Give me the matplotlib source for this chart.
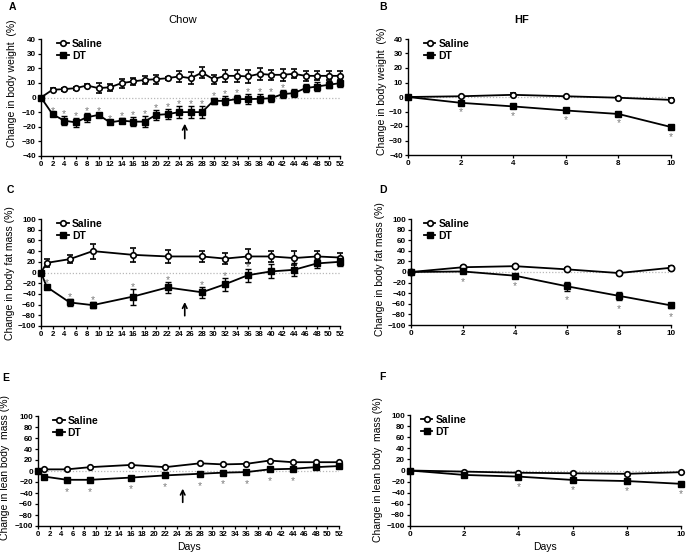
import matplotlib
matplotlib.use("Agg")
import matplotlib.pyplot as plt
from matplotlib.lines import Line2D

plt.rcParams['font.family'] = ['Liberation Sans', 'DejaVu Sans']

# ---------------- data ----------------
# Panel A (Chow, body weight)
A_days = list(range(0, 53, 2))
A_sal = [0, 5.3, 5.7, 6.4, 8.2, 6.4, 7, 9.8, 11, 12, 12.5, 13.2, 14.4, 13.2, 17,
         12.5, 14.8, 14.8, 14.4, 16.2, 15.5, 15.5, 16.2, 14.8, 14.8, 14.8, 14.8]
A_sal_err = [0, 1, 1, 1, 1, 3.5, 2.5, 3, 2.5, 3, 3, 1, 3.5, 4, 4, 3, 4, 4, 4.5,
             4, 3.5, 4, 3, 3.5, 3, 3, 3]
A_dt = [0, -11.4, -15.8, -17, -13.5, -11.9, -17, -15.8, -16.5, -16.5, -11.9, -11.4,
        -10, -10, -10, -2.3, -2.3, -1.1, -1.1, -0.9, -0.5, 2.3, 3, 6.4, 7.5, 8.7, 9.8]
A_dt_err = [0, 1, 3, 3, 3, 1.5, 1, 1.5, 3, 4, 3.5, 3.5, 4, 4, 4, 2, 3, 2.5, 3.5,
            3, 2.5, 2.5, 2.5, 2.5, 3, 2.5, 2.5]
A_sig = list(range(2, 43, 2))

# Panel B (HF, body weight)
B_days = [0, 2, 4, 6, 8, 10]
B_sal = [0, 0.5, 1.5, 0.5, -0.5, -2]
B_sal_err = [0.5, 0.5, 1, 0.5, 0.5, 1]
B_dt = [0, -4, -6.5, -9.3, -11.7, -20.7]
B_dt_err = [0.5, 0.5, 1, 1, 1, 1.5]
B_sig = [2, 4, 6, 8, 10]

# Panel C (Chow, fat mass)
C_days = [0, 1, 5, 9, 16, 22, 28, 32, 36, 40, 44, 48, 52]
C_sal = [0, 18, 25, 40, 33, 30, 30, 26, 30, 30, 27, 30, 28]
C_sal_err = [0, 8, 8, 14, 13, 12, 10, 10, 13, 10, 13, 10, 8]
C_dt = [0, -27, -56, -61, -45, -28, -37, -22, -5, 2, 5, 17, 20]
C_dt_err = [0, 3, 6, 6, 15, 10, 10, 12, 12, 13, 12, 8, 8]
C_sig = [1, 5, 9, 16, 22, 28, 32, 36]

# Panel D (HF, fat mass)
D_days = [0, 2, 4, 6, 8, 10]
D_sal = [0, 9, 11, 5, -2, 8]
D_sal_err = [1, 2, 2, 2, 2, 4]
D_dt = [0, 1, -7, -27, -45, -63]
D_dt_err = [1, 2, 2, 8, 8, 4]
D_sig = [2, 4, 6, 8, 10]

# Panel E (Chow, lean mass)
E_days = [0, 1, 5, 9, 16, 22, 28, 32, 36, 40, 44, 48, 52]
E_sal = [0, 3, 3, 7, 11, 7, 14, 12, 13, 19, 16, 16, 16]
E_dt = [0, -10, -16, -16, -12, -8, -5, -3, -2, 3, 4, 7, 9]
E_sig = [5, 9, 16, 22, 28, 32, 36, 40, 44]

# Panel F (HF, lean mass)
F_days = [0, 2, 4, 6, 8, 10]
F_sal = [0, -2, -4, -5, -6, -3]
F_dt = [0, -8, -11, -17, -19, -24]
F_sig = [4, 6, 8, 10]

# ---------------- figure ----------------
W, H = 687, 558
fig = plt.figure(figsize=(W / 100, H / 100), dpi=100)


def px_axes(left, top, right, bottom):
    return fig.add_axes([left / W, 1 - bottom / H, (right - left) / W, (bottom - top) / H])


TICK_FS = 5.8
LBL_FS = 7.5
STAR_FS = 7.5


def style(ax, xlim, xticks, ylim, yticks, xfs):
    ax.set_xlim(*xlim)
    ax.set_ylim(*ylim)
    ax.set_xticks(xticks)
    ax.set_yticks(yticks)
    for s in ['top', 'right']:
        ax.spines[s].set_visible(False)
    for s in ['left', 'bottom']:
        ax.spines[s].set_linewidth(1.0)
    ax.tick_params(direction='out', length=2.5, width=0.9, pad=1.2)
    for lab in ax.get_xticklabels():
        lab.set_fontsize(xfs)
        lab.set_fontweight('bold')
    for lab in ax.get_yticklabels():
        lab.set_fontsize(TICK_FS)
        lab.set_fontweight('bold')
    ax.axhline(0, color='#b8b8b8', lw=0.9, ls=(0, (1, 1.5)), zorder=0)


def plot_series(ax, x, sal, dt, sal_err=None, dt_err=None, ms=4):
    ax.errorbar(x, sal, yerr=sal_err, color='black', lw=1.3, marker='o', ms=ms,
                mfc='white', mec='black', mew=1.2, capsize=2.4, elinewidth=1.0,
                capthick=1.0, clip_on=False, zorder=3)
    ax.errorbar(x, dt, yerr=dt_err, color='black', lw=1.3, marker='s', ms=ms * 0.95,
                mfc='black', mec='black', capsize=2.4, elinewidth=1.0,
                capthick=1.0, clip_on=False, zorder=4)


def legend(ax, anchor, fs=7.5):
    h = [Line2D([], [], color='black', lw=1.3, marker='o', ms=4, mfc='white', mew=1.2),
         Line2D([], [], color='black', lw=1.3, marker='s', ms=3.8, mfc='black')]
    leg = ax.legend(h, ['Saline', 'DT'], loc='upper left', bbox_to_anchor=anchor,
                    frameon=False, handlelength=1.1, handletextpad=0.3,
                    labelspacing=0.15, borderaxespad=0, borderpad=0,
                    prop={'size': fs, 'weight': 'bold'})
    return leg


def stars(ax, xs, days, dt, err, offset):
    # glyph centre of '*' sits about 0.58 em above the baseline
    shift = -0.58 * STAR_FS
    for xv in xs:
        i = days.index(xv)
        e = err[i] if err is not None else 0
        y = dt[i] + (e + offset if offset > 0 else -e + offset)
        ax.annotate('*', xy=(xv, y), xytext=(0, shift), textcoords='offset points',
                    color='#7a7a7a', fontsize=STAR_FS, ha='center', va='baseline')


def arrow(ax, x, y0, y1):
    ax.annotate('', xy=(x, y1), xytext=(x, y0),
                arrowprops=dict(arrowstyle='->', color='black', lw=1.2,
                                mutation_scale=8))


wide_ticks = list(range(0, 53, 2))
hf_ticks = [0, 2, 4, 6, 8, 10]

# Panel A
axA = px_axes(41, 39, 340, 156)
style(axA, (0, 52), wide_ticks, (-40, 40), range(-40, 41, 10), 5.6)
plot_series(axA, A_days, A_sal, A_dt, A_sal_err, A_dt_err)
stars(axA, A_sig, A_days, A_dt, A_dt_err, 3.5)
arrow(axA, 25, -30, -16)
legend(axA, (0.055, 1.0))
axA.set_ylabel('Change in body weight  (%)', fontsize=LBL_FS)
axA.yaxis.set_label_coords(-0.08, 0.62)

# Panel B
axB = px_axes(408, 39, 671, 155)
style(axB, (0, 10), hf_ticks, (-40, 40), range(-40, 41, 10), TICK_FS)
plot_series(axB, B_days, B_sal, B_dt, B_sal_err, B_dt_err)
stars(axB, B_sig, B_days, B_dt, None, -4.5)
legend(axB, (0.06, 1.0))
axB.set_ylabel('Change in body weight  (%)', fontsize=LBL_FS)
axB.yaxis.set_label_coords(-0.078, 0.55)

# Panel C
axC = px_axes(41, 219, 340, 326)
style(axC, (0, 52), wide_ticks, (-100, 100), range(-100, 101, 20), 5.6)
plot_series(axC, C_days, C_sal, C_dt, C_sal_err, C_dt_err)
stars(axC, C_sig, C_days, C_dt, C_dt_err, 9)
arrow(axC, 25, -86, -50)
legend(axC, (0.055, 1.0))
axC.set_ylabel('Change in body fat mass (%)', fontsize=LBL_FS)
axC.yaxis.set_label_coords(-0.088, 0.495)

# Panel D
axD = px_axes(411, 219, 671, 325)
style(axD, (0, 10), hf_ticks, (-100, 100), range(-100, 101, 20), TICK_FS)
plot_series(axD, D_days, D_sal, D_dt, D_sal_err, D_dt_err, ms=4.5)
stars(axD, D_sig, D_days, D_dt, D_dt_err, -12)
legend(axD, (0.05, 1.0))
axD.set_ylabel('Change in body fat mass (%)', fontsize=LBL_FS)
axD.yaxis.set_label_coords(-0.1, 0.53)

# Panel E
axE = px_axes(38, 416, 339, 526)
style(axE, (0, 52), wide_ticks, (-100, 100), range(-100, 101, 20), 5.6)
plot_series(axE, E_days, E_sal, E_dt)
stars(axE, E_sig, E_days, E_dt, None, -16)
arrow(axE, 25, -62, -27)
legend(axE, (0.05, 1.0))
axE.set_ylabel('Change in lean body  mass (%)', fontsize=LBL_FS)
axE.yaxis.set_label_coords(-0.092, 0.536)
axE.set_xlabel('Days', fontsize=LBL_FS, labelpad=3)

# Panel F
axF = px_axes(410, 415, 681, 526)
style(axF, (0, 10), hf_ticks, (-100, 100), range(-100, 101, 20), TICK_FS)
plot_series(axF, F_days, F_sal, F_dt)
stars(axF, F_sig, F_days, F_dt, None, -13)
legend(axF, (0.04, 1.0))
axF.set_ylabel('Change in lean body  mass (%)', fontsize=LBL_FS)
axF.yaxis.set_label_coords(-0.1, 0.51)
axF.set_xlabel('Days', fontsize=LBL_FS, labelpad=3)

# Titles and panel letters
fig.text(183 / W, 1 - 20 / H, 'Chow', fontsize=8, ha='center', va='center')
fig.text(522 / W, 1 - 20 / H, 'HF', fontsize=8, fontweight='bold', ha='center', va='center')
for letter, x, y in [('A', 12, 7), ('B', 383, 7), ('C', 10, 190), ('D', 383, 190),
                     ('E', 6, 378), ('F', 382, 377)]:
    fig.text(x / W, 1 - y / H, letter, fontsize=7.5, fontweight='bold', ha='center', va='center')

fig.savefig('out.png', dpi=100)
